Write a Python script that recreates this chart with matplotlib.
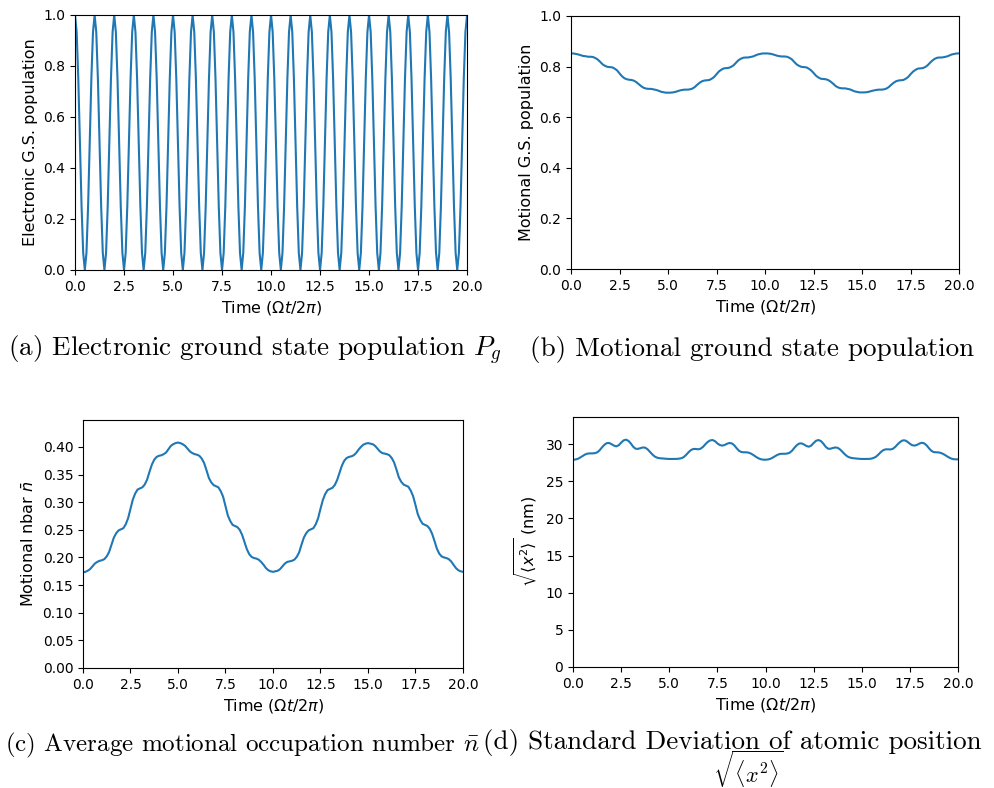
import matplotlib
matplotlib.use("Agg")
import matplotlib.pyplot as plt
import numpy as np

# time grids
tFast = np.arange(0, 241) / 12.0   # panel (a), step 1/12
tSlow = np.arange(0, 161) / 8.0    # panels (b)-(d), step 1/8

# (a) electronic ground state population, one row per Rabi period
popElec = [
  1.0, 0.933, 0.75, 0.5, 0.25, 0.067, 0.0, 0.067, 0.25, 0.5, 0.75, 0.933,
  1.0, 0.933, 0.75, 0.5, 0.25, 0.067, 0.0, 0.067, 0.25, 0.5, 0.75, 0.933,
  1.0, 0.933, 0.75, 0.5, 0.25, 0.067, 0.0, 0.067, 0.25, 0.5, 0.75, 0.933,
  1.0, 0.933, 0.75, 0.5, 0.25, 0.067, 0.0, 0.067, 0.25, 0.5, 0.75, 0.933,
  1.0, 0.933, 0.75, 0.5, 0.25, 0.067, 0.0, 0.067, 0.25, 0.5, 0.75, 0.933,
  1.0, 0.933, 0.75, 0.5, 0.25, 0.067, 0.0, 0.067, 0.25, 0.5, 0.75, 0.933,
  1.0, 0.933, 0.75, 0.5, 0.25, 0.067, 0.0, 0.067, 0.25, 0.5, 0.75, 0.933,
  1.0, 0.933, 0.75, 0.5, 0.25, 0.067, 0.0, 0.067, 0.25, 0.5, 0.75, 0.933,
  1.0, 0.933, 0.75, 0.5, 0.25, 0.067, 0.0, 0.067, 0.25, 0.5, 0.75, 0.933,
  1.0, 0.933, 0.75, 0.5, 0.25, 0.067, 0.0, 0.067, 0.25, 0.5, 0.75, 0.933,
  1.0, 0.933, 0.75, 0.5, 0.25, 0.067, 0.0, 0.067, 0.25, 0.5, 0.75, 0.933,
  1.0, 0.933, 0.75, 0.5, 0.25, 0.067, 0.0, 0.067, 0.25, 0.5, 0.75, 0.933,
  1.0, 0.933, 0.75, 0.5, 0.25, 0.067, 0.0, 0.067, 0.25, 0.5, 0.75, 0.933,
  1.0, 0.933, 0.75, 0.5, 0.25, 0.067, 0.0, 0.067, 0.25, 0.5, 0.75, 0.933,
  1.0, 0.933, 0.75, 0.5, 0.25, 0.067, 0.0, 0.067, 0.25, 0.5, 0.75, 0.933,
  1.0, 0.933, 0.75, 0.5, 0.25, 0.067, 0.0, 0.067, 0.25, 0.5, 0.75, 0.933,
  1.0, 0.933, 0.75, 0.5, 0.25, 0.067, 0.0, 0.067, 0.25, 0.5, 0.75, 0.933,
  1.0, 0.933, 0.75, 0.5, 0.25, 0.067, 0.0, 0.067, 0.25, 0.5, 0.75, 0.933,
  1.0, 0.933, 0.75, 0.5, 0.25, 0.067, 0.0, 0.067, 0.25, 0.5, 0.75, 0.933,
  1.0, 0.933, 0.75, 0.5, 0.25, 0.067, 0.0, 0.067, 0.25, 0.5, 0.75, 0.933,
  1.0,
]

# (b) motional ground state population, one row per unit of time
popMot = [
  0.852, 0.852, 0.850, 0.848, 0.845, 0.842, 0.841, 0.839,
  0.839, 0.838, 0.834, 0.828, 0.819, 0.809, 0.803, 0.799,
  0.798, 0.797, 0.792, 0.785, 0.773, 0.762, 0.754, 0.750,
  0.748, 0.747, 0.744, 0.738, 0.730, 0.722, 0.716, 0.713,
  0.712, 0.712, 0.710, 0.708, 0.705, 0.701, 0.699, 0.697,
  0.697, 0.697, 0.698, 0.700, 0.703, 0.706, 0.708, 0.709,
  0.709, 0.710, 0.713, 0.719, 0.728, 0.736, 0.742, 0.745,
  0.746, 0.747, 0.752, 0.759, 0.770, 0.781, 0.788, 0.793,
  0.794, 0.795, 0.799, 0.805, 0.815, 0.825, 0.831, 0.835,
  0.836, 0.836, 0.838, 0.840, 0.844, 0.848, 0.850, 0.852,
  0.852, 0.852, 0.851, 0.849, 0.846, 0.843, 0.841, 0.840,
  0.840, 0.839, 0.835, 0.829, 0.819, 0.809, 0.803, 0.799,
  0.798, 0.797, 0.792, 0.785, 0.775, 0.764, 0.757, 0.752,
  0.751, 0.750, 0.747, 0.741, 0.733, 0.724, 0.718, 0.715,
  0.714, 0.714, 0.712, 0.710, 0.706, 0.702, 0.700, 0.698,
  0.698, 0.698, 0.699, 0.701, 0.704, 0.706, 0.708, 0.709,
  0.709, 0.710, 0.713, 0.719, 0.728, 0.736, 0.742, 0.745,
  0.746, 0.747, 0.752, 0.759, 0.770, 0.780, 0.787, 0.792,
  0.793, 0.794, 0.798, 0.805, 0.815, 0.824, 0.831, 0.835,
  0.836, 0.836, 0.838, 0.840, 0.844, 0.848, 0.850, 0.852,
  0.852,
]

# (c) average motional occupation nbar
nbar = [
  0.173, 0.174, 0.176, 0.179, 0.184, 0.189, 0.192, 0.194,
  0.195, 0.197, 0.202, 0.210, 0.223, 0.236, 0.244, 0.249,
  0.251, 0.253, 0.260, 0.271, 0.288, 0.305, 0.316, 0.323,
  0.325, 0.327, 0.332, 0.341, 0.355, 0.368, 0.377, 0.382,
  0.384, 0.385, 0.387, 0.390, 0.396, 0.402, 0.405, 0.407,
  0.408, 0.407, 0.405, 0.402, 0.397, 0.392, 0.389, 0.387,
  0.386, 0.384, 0.379, 0.371, 0.358, 0.344, 0.336, 0.331,
  0.329, 0.327, 0.320, 0.310, 0.293, 0.276, 0.266, 0.259,
  0.257, 0.255, 0.250, 0.241, 0.228, 0.215, 0.206, 0.201,
  0.199, 0.198, 0.196, 0.192, 0.187, 0.181, 0.177, 0.175,
  0.174, 0.175, 0.176, 0.179, 0.184, 0.189, 0.192, 0.193,
  0.194, 0.196, 0.201, 0.209, 0.223, 0.236, 0.244, 0.249,
  0.251, 0.253, 0.260, 0.271, 0.288, 0.304, 0.315, 0.322,
  0.324, 0.326, 0.331, 0.340, 0.353, 0.366, 0.375, 0.380,
  0.382, 0.383, 0.385, 0.389, 0.395, 0.400, 0.404, 0.406,
  0.407, 0.406, 0.405, 0.402, 0.397, 0.392, 0.389, 0.388,
  0.387, 0.385, 0.380, 0.372, 0.359, 0.345, 0.337, 0.332,
  0.330, 0.328, 0.321, 0.311, 0.295, 0.278, 0.268, 0.261,
  0.259, 0.257, 0.252, 0.243, 0.230, 0.216, 0.207, 0.202,
  0.200, 0.199, 0.197, 0.193, 0.187, 0.181, 0.177, 0.175,
  0.174,
]

# (d) sqrt(<x^2>) in nm
xrms = [
  27.90, 27.93, 28.02, 28.20, 28.40, 28.60, 28.72, 28.75,
  28.75, 28.78, 28.88, 29.15, 29.55, 29.90, 30.13, 30.15,
  30.00, 29.80, 29.70, 29.85, 30.20, 30.50, 30.60, 30.45,
  30.10, 29.65, 29.38, 29.36, 29.45, 29.55, 29.52, 29.30,
  28.95, 28.60, 28.32, 28.17, 28.10, 28.07, 28.05, 28.02,
  28.00, 28.00, 28.00, 28.01, 28.04, 28.10, 28.25, 28.55,
  28.90, 29.20, 29.35, 29.35, 29.30, 29.38, 29.62, 29.98,
  30.30, 30.50, 30.55, 30.40, 30.10, 29.88, 29.80, 29.88,
  30.05, 30.15, 30.10, 29.85, 29.45, 29.10, 28.93, 28.90,
  28.90, 28.85, 28.72, 28.52, 28.30, 28.10, 27.97, 27.91,
  27.90, 27.93, 28.02, 28.18, 28.38, 28.56, 28.68, 28.70,
  28.70, 28.73, 28.84, 29.10, 29.50, 29.85, 30.08, 30.10,
  29.95, 29.75, 29.65, 29.80, 30.15, 30.45, 30.55, 30.42,
  30.08, 29.65, 29.38, 29.38, 29.48, 29.55, 29.50, 29.28,
  28.95, 28.62, 28.35, 28.20, 28.12, 28.08, 28.05, 28.02,
  28.00, 28.00, 28.00, 28.01, 28.05, 28.15, 28.32, 28.62,
  28.95, 29.20, 29.30, 29.30, 29.28, 29.38, 29.65, 30.00,
  30.30, 30.50, 30.50, 30.32, 30.05, 29.85, 29.80, 29.90,
  30.08, 30.18, 30.10, 29.82, 29.42, 29.08, 28.92, 28.90,
  28.88, 28.80, 28.65, 28.45, 28.25, 28.08, 27.98, 27.95,
  27.95,
]

xTicks = [0.0, 2.5, 5.0, 7.5, 10.0, 12.5, 15.0, 17.5, 20.0]
nbarTicks = [0.00, 0.05, 0.10, 0.15, 0.20, 0.25, 0.30, 0.35, 0.40]
xrmsTicks = [0, 5, 10, 15, 20, 25, 30]

captionA = r"(a) Electronic ground state population $P_g$"
captionB = r"(b) Motional ground state population"
captionC = r"(c) Average motional occupation number $\bar{n}$"
captionD = r"(d) Standard Deviation of atomic position"
captionD2 = r"$\sqrt{\langle x^2\rangle}$"

timeLabel = r"Time ($\Omega t/2\pi$)"

plt.rcParams["axes.labelsize"] = 11.5
plt.rcParams["xtick.labelsize"] = 10
plt.rcParams["ytick.labelsize"] = 10

fig = plt.figure(figsize=(9.95, 7.88), dpi=100)

axA = fig.add_axes([0.0754, 0.6574, 0.394, 0.3236])
axB = fig.add_axes([0.5739, 0.6586, 0.390, 0.3211])
axC = fig.add_axes([0.0834, 0.1523, 0.3819, 0.3147])
axD = fig.add_axes([0.5759, 0.1536, 0.3869, 0.3173])

lineColor = "#1f77b4"

axA.plot(tFast, popElec, color=lineColor, lw=1.5)
axA.set_xlim(0, 20)
axA.set_ylim(0, 1)
axA.set_ylabel("Electronic G.S. population")

axB.plot(tSlow, popMot, color=lineColor, lw=1.5)
axB.set_xlim(0, 20)
axB.set_ylim(0, 1)
axB.set_ylabel("Motional G.S. population")

axC.plot(tSlow, nbar, color=lineColor, lw=1.5)
axC.set_xlim(0, 20)
axC.set_ylim(0, max(nbar) * 1.1)
axC.set_yticks(nbarTicks)
axC.set_ylabel(r"Motional nbar $\bar{n}$")

axD.plot(tSlow, xrms, color=lineColor, lw=1.5)
axD.set_xlim(0, 20)
axD.set_ylim(0, max(xrms) * 1.1)
axD.set_yticks(xrmsTicks)
axD.set_ylabel(r"$\sqrt{\langle x^2\rangle}$ (nm)")

for ax in [axA, axB, axC, axD]:
  ax.set_xticks(xTicks)
  ax.set_xlabel(timeLabel)

# LaTeX-like captions under each panel
capFont = dict(family="cmr10", math_fontfamily="cm")
fig.text(8 / 995, 1 - 350 / 788, captionA, ha="left", va="center", size=19.5, **capFont)
fig.text(530 / 995, 1 - 350 / 788, captionB, ha="left", va="center", size=19.5, **capFont)
fig.text(5 / 995, 1 - 745 / 788, captionC, ha="left", va="center", size=18, **capFont)
fig.text(483 / 995, 1 - 743 / 788, captionD, ha="left", va="center", size=19.5, **capFont)
fig.text(748 / 995, 1 - 769 / 788, captionD2, ha="center", va="center", size=16, **capFont)

fig.savefig("out.png", dpi=100)
